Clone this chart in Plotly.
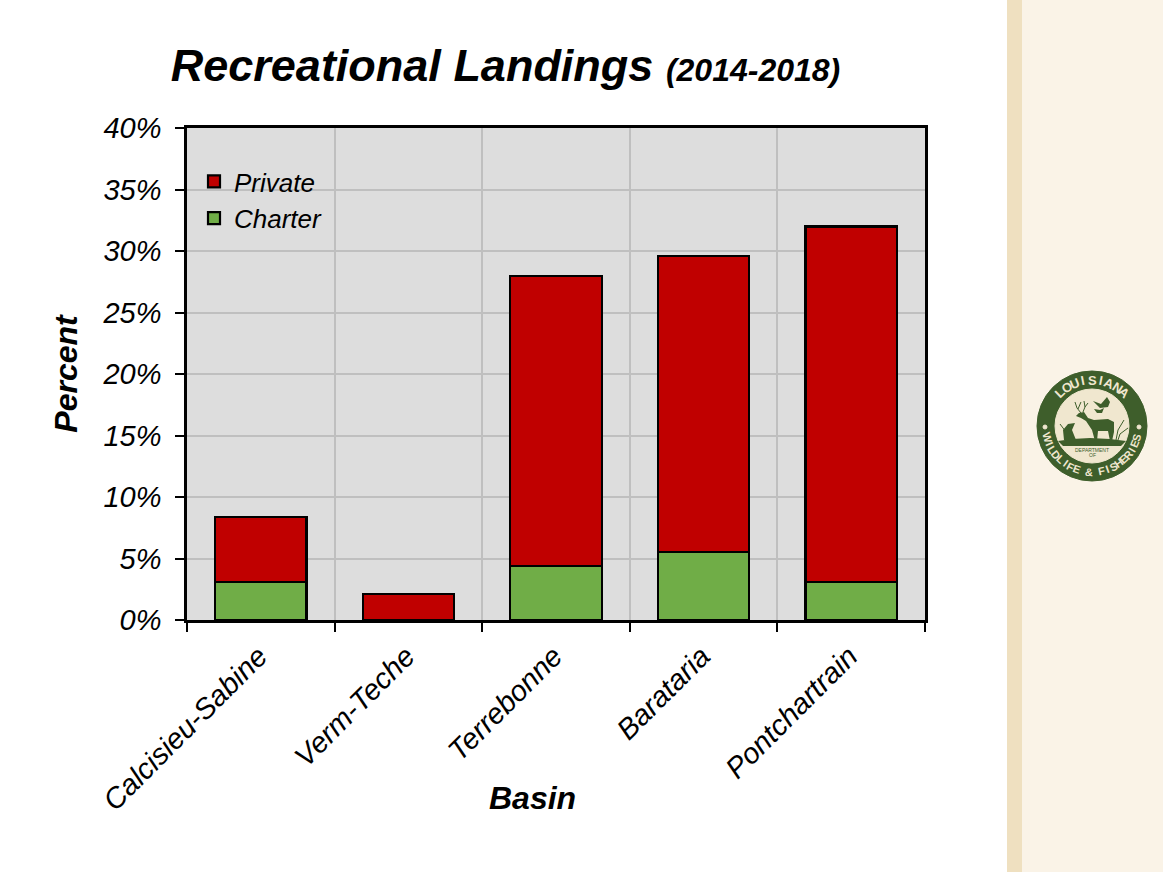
import math
import plotly.graph_objects as go

basins = ["Calcisieu-Sabine", "Verm-Teche", "Terrebonne", "Barataria", "Pontchartrain"]
charter = [3.1, 0.0, 4.4, 5.5, 3.1]
private = [5.3, 2.1, 23.6, 24.1, 28.9]
y_ticks = [0, 5, 10, 15, 20, 25, 30, 35, 40]
y_labels = ["0%", "5%", "10%", "15%", "20%", "25%", "30%", "35%", "40%"]

W, H = 1163, 872
L, R, T, B = 187, 925, 128, 620
FONT = "Liberation Sans, Arial, sans-serif"
GREEN = "#3E5E2B"
CREAM = "#F0E7CF"


def px(x):
    return (x - L) / (R - L)


def py(y):
    return (B - y) / (B - T)


def rect(x0, y0, x1, y1, color):
    return dict(type="rect", xref="paper", yref="paper", x0=px(x0), x1=px(x1),
                y0=py(y1), y1=py(y0), fillcolor=color, line_width=0, layer="below")


def circle(cx, cy, r, color):
    return dict(type="circle", xref="paper", yref="paper", x0=px(cx - r), x1=px(cx + r),
                y0=py(cy + r), y1=py(cy - r), fillcolor=color,
                line=dict(color=color, width=1), layer="above")


def silhouette(points, color):
    path = "M " + " L ".join(f"{px(a):.5f},{py(b):.5f}" for a, b in points) + " Z"
    return dict(type="path", xref="paper", yref="paper", path=path, fillcolor=color,
                line_width=0, layer="above")


def stroke(points, color, width=1):
    path = "M " + " L ".join(f"{px(a):.5f},{py(b):.5f}" for a, b in points)
    return dict(type="path", xref="paper", yref="paper", path=path,
                line=dict(color=color, width=width), layer="above")


CX, CY = 1092, 426
deer = [(1079, 413), (1084, 412), (1088, 418), (1094, 420), (1108, 419), (1114, 422),
        (1114, 432), (1112, 441), (1110, 441), (1108, 431), (1098, 431), (1097, 441),
        (1095, 441), (1092, 430), (1086, 421), (1081, 418), (1076, 416)]
antler_left = [(1081, 413), (1077, 408), (1075, 402)]
antler_tine = [(1078, 409), (1081, 402)]
antler_right = [(1083, 412), (1085, 407), (1084, 401)]
antler_tine2 = [(1085, 407), (1088, 403)]
ground = [(1058, 441), (1072, 439), (1090, 438), (1110, 439), (1126, 441), (1121, 446), (1063, 446)]
fish = [(1064, 440), (1063, 430), (1068, 424), (1075, 423), (1072, 430), (1076, 440)]
bird1 = [(1093, 401), (1101, 404), (1107, 397), (1110, 402), (1108, 407), (1100, 408)]
bird2 = [(1094, 409), (1100, 410), (1104, 408), (1102, 413), (1097, 413)]
grass_l = [(1060, 424), (1066, 432), (1068, 440)]
grass_r = [(1124, 420), (1118, 430), (1116, 440)]
grass_r2 = [(1128, 428), (1120, 434), (1118, 440)]

shapes = [
    rect(1007, 0, 1022, H, "#EFE0C0"),
    rect(1022, 0, W, H, "#FAF3E7"),
    circle(CX, CY, 55, GREEN),
    circle(CX, CY, 37, CREAM),
    silhouette(ground, GREEN),
    silhouette(fish, GREEN),
    silhouette(deer, GREEN),
    silhouette(bird1, GREEN),
    silhouette(bird2, GREEN),
    stroke(antler_left, GREEN),
    stroke(antler_tine, GREEN),
    stroke(antler_right, GREEN),
    stroke(antler_tine2, GREEN),
    stroke(grass_l, GREEN),
    stroke(grass_r, GREEN),
    stroke(grass_r2, GREEN),
    circle(1045, 427, 2, CREAM),
    circle(1139, 427, 2, CREAM),
]

annotations = [
    dict(text="<b><i>Basin</i></b>", xref="paper", yref="paper", x=px(532), y=py(798),
         showarrow=False, xanchor="center", yanchor="middle",
         font=dict(family=FONT, size=32, color="black")),
    dict(text="DEPARTMENT", xref="paper", yref="paper", x=px(CX), y=py(450), showarrow=False,
         font=dict(family=FONT, size=5, color=GREEN), xanchor="center", yanchor="middle"),
    dict(text="OF", xref="paper", yref="paper", x=px(CX), y=py(455), showarrow=False,
         font=dict(family=FONT, size=5, color=GREEN), xanchor="center", yanchor="middle"),
]


def ring_letters(text, start_deg, end_deg, size, bottom):
    n = len(text)
    out = []
    for i, ch in enumerate(text):
        a = start_deg + (end_deg - start_deg) * i / (n - 1)
        rad = math.radians(a)
        out.append(dict(text=f"<b>{ch}</b>", xref="paper", yref="paper",
                        x=px(CX + 46 * math.sin(rad)), y=py(CY - 46 * math.cos(rad)),
                        showarrow=False, textangle=a - 180 if bottom else a,
                        font=dict(family=FONT, size=size, color=CREAM),
                        xanchor="center", yanchor="middle"))
    return out


annotations += ring_letters("LOUISIANA", -44, 44, 13, False)
annotations += ring_letters("WILDLIFE & FISHERIES", 255, 105, 11, True)

fig = go.Figure()
fig.add_bar(name="Charter", x=basins, y=charter,
            marker=dict(color="#70AD47", line=dict(color="black", width=2.2)))
fig.add_bar(name="Private", x=basins, y=private,
            marker=dict(color="#C00000", line=dict(color="black", width=2.2)))

fig.update_layout(
    width=W, height=H, autosize=False,
    margin=dict(l=L, r=W - R, t=T, b=H - B, pad=0),
    paper_bgcolor="white", plot_bgcolor="#DDDDDD",
    barmode="stack", bargap=0.38,
    font=dict(family=FONT, color="black"),
    title=dict(
        text="<b><i>Recreational Landings</i></b> <b><i><span style='font-size:32px'>(2014-2018)</span></i></b>",
        x=px(505.5), xref="paper", xanchor="center", y=1 - 65 / H, yref="container", yanchor="middle",
        font=dict(family=FONT, size=45, color="black"),
    ),
    legend=dict(
        x=px(194), y=py(158), xanchor="left", yanchor="top",
        traceorder="reversed", bgcolor="rgba(0,0,0,0)",
        font=dict(family=FONT, size=26, color="black", style="italic"),
        itemwidth=30, tracegroupgap=0,
    ),
    shapes=shapes,
    annotations=annotations,
    xaxis=dict(
        type="category", tickson="boundaries", range=[-0.5, 4.5],
        showgrid=True, gridcolor="#BFBFBF", gridwidth=1.5,
        showline=True, linecolor="black", linewidth=2.5, mirror=True,
        ticks="outside", ticklen=9, tickwidth=2, tickcolor="black",
        tickangle=-45, ticklabelstandoff=5, ticklabelshift=-2,
        tickfont=dict(family=FONT, size=29, style="italic"),
    ),
    yaxis=dict(
        range=[0, 40], tickvals=y_ticks, ticktext=y_labels,
        showgrid=True, gridcolor="#BFBFBF", gridwidth=1.5, zeroline=False,
        showline=True, linecolor="black", linewidth=2.5, mirror=True,
        ticks="outside", ticklen=9, tickwidth=2, tickcolor="black",
        ticklabelstandoff=8,
        tickfont=dict(family=FONT, size=29, style="italic"),
        title=dict(text="<b><i>Percent</i></b>", standoff=16,
                   font=dict(family=FONT, size=32, color="black")),
    ),
)

fig.write_html("out.html", config={"displayModeBar": False},
               post_script="document.body.style.margin='0';")
